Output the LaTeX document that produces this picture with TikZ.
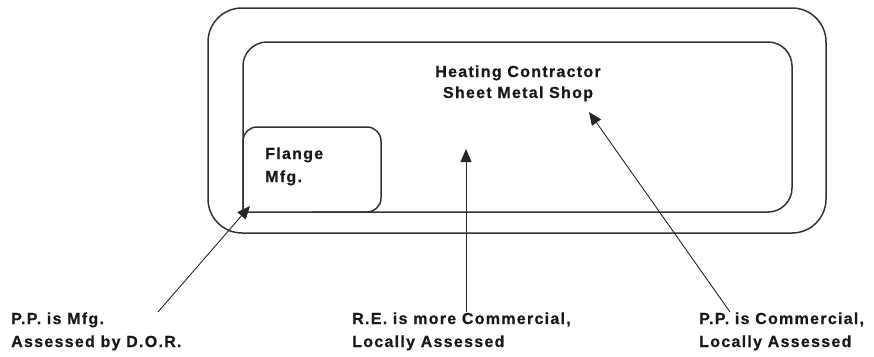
\documentclass[tikz,border=0pt]{standalone}
\usepackage{fontspec}
\setmainfont{Liberation Sans}[LetterSpace=8, BoldFeatures={FakeBold=0.6}]
\usetikzlibrary{arrows.meta}
\tikzset{
  boxline/.style={draw=black!80, line width=1.5pt},
  area/.style={inner sep=0pt, outer sep=0pt},
  lab/.style={font=\bfseries\fontsize{16}{23}\selectfont, align=left, inner sep=0pt, anchor=base west, text=black!90},
  arr/.style={draw=black!85, line width=0.9pt, -{Triangle[length=13pt,width=11pt]}}
}
\begin{document}
\begin{tikzpicture}[x=1pt,y=-1pt]
\useasboundingbox (0,0) rectangle (874,356);
\node[area, boxline, rounded corners=34pt, minimum width=618pt, minimum height=225pt] (outer) at (517,120.5) {};
\node[area, minimum width=549pt, minimum height=170pt] (inner) at (517.5,127) {};
\node[area, minimum width=138pt, minimum height=85pt] (flange) at (312,169.5) {};
\draw[boxline, rounded corners=24pt, line cap=rect] (inner.south west) -- (inner.north west) -- (inner.north east) -- (inner.south east) -- (inner.south west);
\draw[boxline, rounded corners=14pt] (flange.south west) -- (flange.north west) -- (flange.north east) -- (flange.south east) -- (flange.south);
\node[lab, align=center, anchor=base, font=\bfseries\fontsize{16}{21}\selectfont] (heat) at (518,98) {Heating Contractor\\Sheet Metal Shop};
\node[lab] (flangetxt) at (265,182) {Flange\\Mfg.};
\node[lab] (t1) at (11,347) {P.P. is Mfg.\\Assessed by D.O.R.};
\node[lab] (t2) at (352,347) {R.E. is more Commercial,\\Locally Assessed};
\node[lab] (t3) at (699,347) {P.P. is Commercial,\\Locally Assessed};
\coordinate (s1) at (158,312);
\coordinate (e1) at (250,206);
\coordinate (s2) at (466,312);
\coordinate (e2) at (466,149);
\coordinate (s3) at (730,312);
\coordinate (e3) at (589,112);
\draw[arr] (s1) -- (e1);
\draw[arr] (s2) -- (e2);
\draw[arr] (s3) -- (e3);
\end{tikzpicture}
\end{document}
